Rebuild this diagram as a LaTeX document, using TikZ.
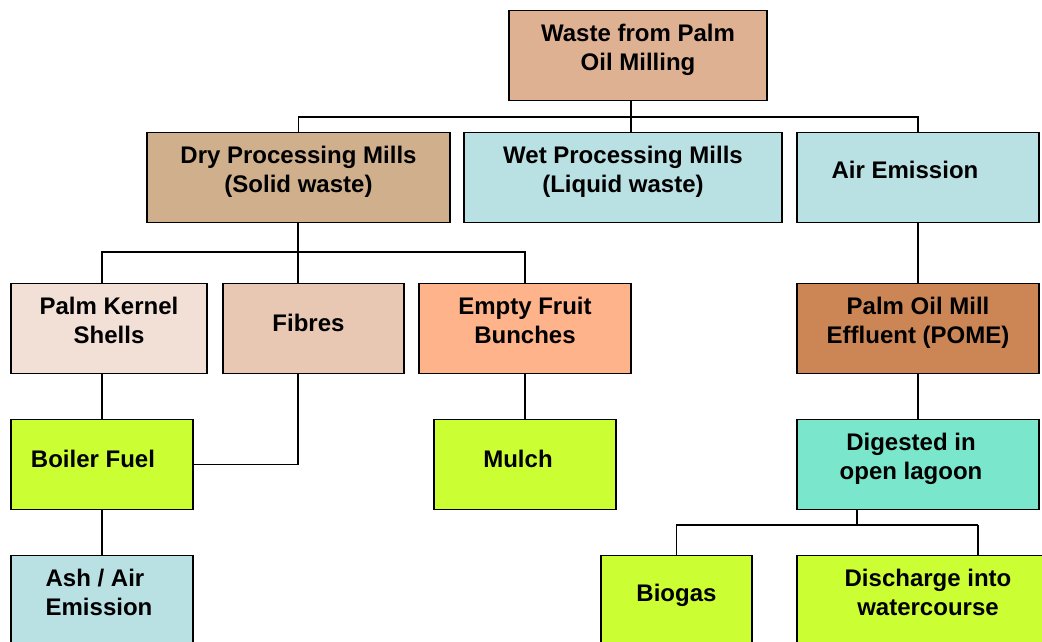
\documentclass[tikz,border=0pt]{standalone}
\usepackage{fontspec}
\setmainfont{Liberation Sans}
\usetikzlibrary{calc}
\definecolor{ctop}{HTML}{DFB193}
\definecolor{cdry}{HTML}{CFAF8C}
\definecolor{cblue}{HTML}{B9E0E3}
\definecolor{cpks}{HTML}{F2E0D6}
\definecolor{cfib}{HTML}{E8C8B2}
\definecolor{cefb}{HTML}{FFB38A}
\definecolor{cpome}{HTML}{CC8554}
\definecolor{cgrn}{HTML}{CCFF33}
\definecolor{cdig}{HTML}{7AE6CC}
\newcommand{\btxt}[2][0pt]{\kern#1\raisebox{0pt}[\height][\dimexpr\depth+10pt\relax]{\begin{tabular}{@{}c@{}}#2\end{tabular}}\kern-#1\relax}
\newcommand{\btxtl}[2][0pt]{\kern#1\raisebox{0pt}[\height][\dimexpr\depth+10pt\relax]{\begin{tabular}{@{}l@{}}#2\end{tabular}}\kern-#1\relax}
\newcommand{\bline}[2][0pt]{\kern#1\raisebox{0pt}[\height][\dimexpr\depth+11pt\relax]{#2}\kern-#1\relax}

\begin{document}
\begin{tikzpicture}[x=1pt,y=-1pt,font=\fontsize{24}{29}\selectfont\bfseries,
  b/.style={draw,line width=1.2pt,inner sep=0pt,minimum height=90pt},
  ln/.style={line width=1.2pt}]
  \useasboundingbox (0,0) rectangle (1042,642);
  \clip (0,0) rectangle (1042,642);
  \node[b,fill=ctop,minimum width=258pt] (top) at (638,55.5) {\btxt{Waste from Palm\\Oil Milling}};
  \node[b,fill=cdry,minimum width=303pt] (dry) at (298.5,177.5) {\btxt{Dry Processing Mills\\(Solid waste)}};
  \node[b,fill=cblue,minimum width=318pt] (wet) at (623,177.5) {\btxt{Wet Processing Mills\\(Liquid waste)}};
  \node[b,fill=cblue,minimum width=242pt] (air) at (918,177.5) {\btxt[-13pt]{Air Emission}};
  \node[b,fill=cpks,minimum width=196pt] (pks) at (109,328.5) {\btxt{Palm Kernel\\Shells}};
  \node[b,fill=cfib,minimum width=181pt] (fib) at (313.5,328.5) {\bline[-5pt]{Fibres}};
  \node[b,fill=cefb,minimum width=212pt] (efb) at (525,328.5) {\btxt{Empty Fruit\\Bunches}};
  \node[b,fill=cpome,minimum width=242pt] (pome) at (918,328.5) {\btxt{Palm Oil Mill\\Effluent (POME)}};
  \node[b,fill=cgrn,minimum width=182pt] (boil) at (102,464.5) {\bline[-9pt]{Boiler Fuel}};
  \node[b,fill=cgrn,minimum width=182pt] (mulch) at (525,464.5) {\bline[-7pt]{Mulch}};
  \node[b,fill=cdig,minimum width=242pt] (dig) at (918,464.5) {\btxt[-7pt]{Digested in\\open lagoon}};
  \node[b,fill=cblue,minimum width=182pt] (ash) at (102,600.5) {\btxtl[-3pt]{Ash / Air\\Emission}};
  \node[b,fill=cgrn,minimum width=151pt] (bio) at (676.5,600.5) {\bline{Biogas}};
  \node[b,fill=cgrn,minimum width=262pt] (dis) at (928,600.5) {\btxt{Discharge into\\watercourse}};
  % junctions
  \coordinate (j1) at (631,117); \coordinate (j2) at (298,252);
  \coordinate (j3) at (857,525); \coordinate (j4) at (978,525);
  \draw[ln](top.south -| j1)--(wet.north -| j1);\draw[ln](dry.north)|-(j1)-|(air.north);
  \draw[ln](dry.south -| j2)--(j2);\draw[ln](pks.north -| boil.north)|-(j2)-|(efb.north);\draw[ln](j2)--(fib.north -| j2);
  \draw[ln](pks.south -| boil.north)--(boil.north);\draw[ln](fib.south -| j2)|-(boil.east);\draw[ln](efb.south)--(mulch.north);
  \draw[ln](air.south)--(pome.north);\draw[ln](pome.south)--(dig.north);\draw[ln](boil.south)--(ash.north);
  \draw[ln](dig.south -| j3)--(j3);\draw[ln](bio.north)|-(j4);\draw[ln](j4)--(dis.north -| j4);
\end{tikzpicture}
\end{document}
